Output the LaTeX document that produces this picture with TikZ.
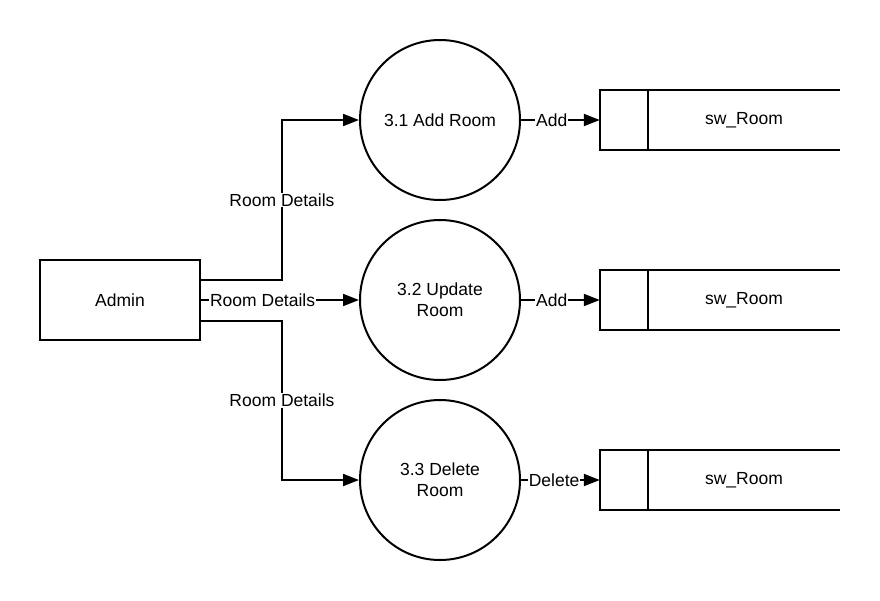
\documentclass[tikz,border=0pt]{standalone}
\usepackage{fontspec}
\setmainfont{Liberation Sans}
\usetikzlibrary{arrows.meta,calc}
\begin{document}
\begin{tikzpicture}[x=1pt,y=-1pt,
  every node/.style={font=\fontsize{17.5}{21}\selectfont},
  proc/.style={circle,draw,line width=2pt,minimum size=160pt,inner sep=0pt,align=center},
  ent/.style={rectangle,draw,line width=2pt,minimum width=160pt,minimum height=80pt},
  storebox/.style={rectangle,draw=none,minimum width=240pt,minimum height=60pt,inner sep=0pt},
  flow/.style={line width=2pt,-{Triangle[length=16pt,width=12pt]}},
  lbl/.style={fill=white,inner sep=1pt}]
\useasboundingbox (0,0) rectangle (880,600);
\node[ent] (admin) at (120,300) {Admin};
\node[proc] (c1) at (440,120) {3.1 Add Room};
\node[proc] (c2) at (440,300) {3.2 Update\\Room};
\node[proc] (c3) at (440,480) {3.3 Delete\\Room};
\foreach \n/\y in {s1/120,s2/300,s3/480}{
  \node[storebox] (\n) at (720,\y) {};
  \draw[line width=2pt] (\n.north east) -- (\n.north west) -- (\n.south west) -- (\n.south east);
  \draw[line width=2pt] ([xshift=48pt]\n.north west) -- ([xshift=48pt]\n.south west);
  \node (\n t) at (744,\y) {sw\_Room};
}
\draw[flow] ([yshift=20pt]admin.east) -- ++(81,0) |- node[pos=0.25,lbl] {Room Details} (c1.west);
\draw[flow] (admin.east) -- node[pos=0.39,lbl] {Room Details} (c2.west);
\draw[flow] ([yshift=-21pt]admin.east) -- ++(81,0) |- node[pos=0.25,lbl] {Room Details} (c3.west);
\draw[flow] (c1.east) -- node[pos=0.39,lbl] {Add} (s1.west);
\draw[flow] (c2.east) -- node[pos=0.39,lbl] {Add} (s2.west);
\draw[flow] (c3.east) -- node[pos=0.42,lbl] {Delete} (s3.west);
\end{tikzpicture}
\end{document}
